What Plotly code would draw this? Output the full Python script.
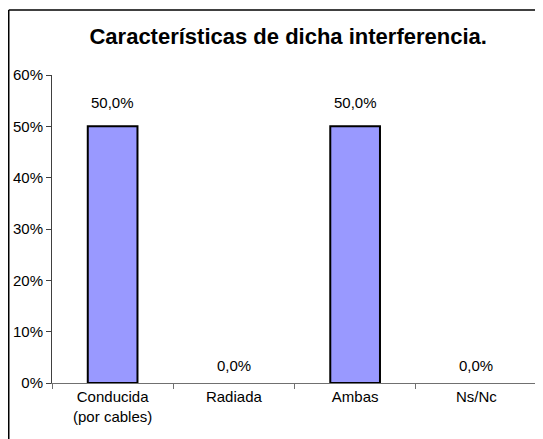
import plotly.graph_objects as go

categories = ["Conducida<br>(por cables)", "Radiada", "Ambas", "Ns/Nc"]
values = [0.5, 0.0, 0.5, 0.0]
labels = ["50,0%", "0,0%", "50,0%", "0,0%"]
y_ticks = [0, 0.1, 0.2, 0.3, 0.4, 0.5, 0.6]
y_tick_text = ["0%", "10%", "20%", "30%", "40%", "50%", "60%"]

# page body has an 8px margin, so the figure is a bit smaller than the window
W, H = 535, 431
ml, mr, mt, mb = 44, 6, 67, 56
pw, ph = W - ml - mr, H - mt - mb
FONT = "Arial, Liberation Sans, sans-serif"

fig = go.Figure(go.Bar(
    x=categories,
    y=values,
    width=0.41,
    marker=dict(color="#9999FF",
                line=dict(color="black", width=[2 if v > 0 else 0 for v in values])),
    hoverinfo="x+y",
))

# value labels sit well above the bars, as in Excel
for c, v, t in zip(categories, values, labels):
    fig.add_annotation(x=c, y=v, text=t, showarrow=False, yanchor="middle",
                       yshift=24 if v > 0 else 18,
                       font=dict(family=FONT, size=15, color="black"))

# outer frame (only left and top edges show in the window)
x0 = (0.75 - ml) / pw
y1 = 1 + (mt - 2) / ph
fig.add_shape(type="line", xref="paper", yref="paper", x0=x0, x1=x0, y0=-0.5, y1=y1,
              line=dict(color="black", width=1.5))
fig.add_shape(type="line", xref="paper", yref="paper", x0=x0, x1=1.5, y0=y1, y1=y1,
              line=dict(color="black", width=1.5))

fig.update_layout(
    width=W, height=H,
    margin=dict(l=ml, r=mr, t=mt, b=mb),
    paper_bgcolor="white", plot_bgcolor="white",
    font=dict(family=FONT, size=15, color="black"),
    title=dict(text="<b>Características de dicha interferencia.</b>",
               xref="paper", x=0.487, xanchor="center", y=1 - 28 / H, yanchor="middle",
               font=dict(size=22, color="black")),
    showlegend=False,
    xaxis=dict(showline=True, linecolor="#707070", linewidth=1,
               ticks="outside", tickson="boundaries", ticklen=5, tickcolor="#707070",
               showgrid=False, tickfont=dict(size=15)),
    yaxis=dict(range=[0, 0.6], tickvals=y_ticks, ticktext=y_tick_text,
               showline=True, linecolor="#404040", linewidth=1,
               ticks="outside", ticklen=5, tickcolor="#404040",
               showgrid=False, zeroline=False, tickfont=dict(size=15)),
)

fig.write_html("out.html")
